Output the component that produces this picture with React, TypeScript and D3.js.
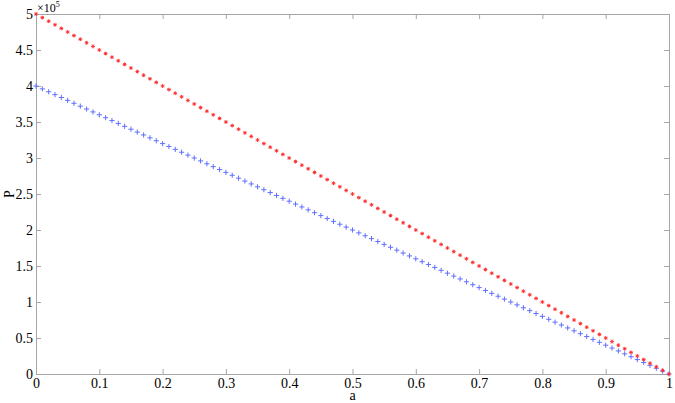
import * as d3 from "d3";
import { useRef, useEffect } from "react";

// a from 0 to 1, step 0.01
const aValues = [
  0, 0.01, 0.02, 0.03, 0.04, 0.05, 0.06, 0.07, 0.08, 0.09,
  0.1, 0.11, 0.12, 0.13, 0.14, 0.15, 0.16, 0.17, 0.18, 0.19,
  0.2, 0.21, 0.22, 0.23, 0.24, 0.25, 0.26, 0.27, 0.28, 0.29,
  0.3, 0.31, 0.32, 0.33, 0.34, 0.35, 0.36, 0.37, 0.38, 0.39,
  0.4, 0.41, 0.42, 0.43, 0.44, 0.45, 0.46, 0.47, 0.48, 0.49,
  0.5, 0.51, 0.52, 0.53, 0.54, 0.55, 0.56, 0.57, 0.58, 0.59,
  0.6, 0.61, 0.62, 0.63, 0.64, 0.65, 0.66, 0.67, 0.68, 0.69,
  0.7, 0.71, 0.72, 0.73, 0.74, 0.75, 0.76, 0.77, 0.78, 0.79,
  0.8, 0.81, 0.82, 0.83, 0.84, 0.85, 0.86, 0.87, 0.88, 0.89,
  0.9, 0.91, 0.92, 0.93, 0.94, 0.95, 0.96, 0.97, 0.98, 0.99,
  1
];

// P in units of 10^5
const redP = [
  5, 4.95, 4.9, 4.85, 4.8, 4.75, 4.7, 4.65, 4.6, 4.55,
  4.5, 4.45, 4.4, 4.35, 4.3, 4.25, 4.2, 4.15, 4.1, 4.05,
  4, 3.95, 3.9, 3.85, 3.8, 3.75, 3.7, 3.65, 3.6, 3.55,
  3.5, 3.45, 3.4, 3.35, 3.3, 3.25, 3.2, 3.15, 3.1, 3.05,
  3, 2.95, 2.9, 2.85, 2.8, 2.75, 2.7, 2.65, 2.6, 2.55,
  2.5, 2.45, 2.4, 2.35, 2.3, 2.25, 2.2, 2.15, 2.1, 2.05,
  2, 1.95, 1.9, 1.85, 1.8, 1.75, 1.7, 1.65, 1.6, 1.55,
  1.5, 1.45, 1.4, 1.35, 1.3, 1.25, 1.2, 1.15, 1.1, 1.05,
  1, 0.95, 0.9, 0.85, 0.8, 0.75, 0.7, 0.65, 0.6, 0.55,
  0.5, 0.45, 0.4, 0.35, 0.3, 0.25, 0.2, 0.15, 0.1, 0.05,
  0
];

const blueP = [
  4, 3.96, 3.92, 3.88, 3.84, 3.8, 3.76, 3.72, 3.68, 3.64,
  3.6, 3.56, 3.52, 3.48, 3.44, 3.4, 3.36, 3.32, 3.28, 3.24,
  3.2, 3.16, 3.12, 3.08, 3.04, 3, 2.96, 2.92, 2.88, 2.84,
  2.8, 2.76, 2.72, 2.68, 2.64, 2.6, 2.56, 2.52, 2.48, 2.44,
  2.4, 2.36, 2.32, 2.28, 2.24, 2.2, 2.16, 2.12, 2.08, 2.04,
  2, 1.96, 1.92, 1.88, 1.84, 1.8, 1.76, 1.72, 1.68, 1.64,
  1.6, 1.56, 1.52, 1.48, 1.44, 1.4, 1.36, 1.32, 1.28, 1.24,
  1.2, 1.16, 1.12, 1.08, 1.04, 1, 0.96, 0.92, 0.88, 0.84,
  0.8, 0.76, 0.72, 0.68, 0.64, 0.6, 0.56, 0.52, 0.48, 0.44,
  0.4, 0.36, 0.32, 0.28, 0.24, 0.2, 0.16, 0.12, 0.08, 0.04,
  0
];

const xTicks = [0, 0.1, 0.2, 0.3, 0.4, 0.5, 0.6, 0.7, 0.8, 0.9, 1];
const yTicks = [0, 0.5, 1, 1.5, 2, 2.5, 3, 3.5, 4, 4.5, 5];

export default function App() {
  const width = 675;
  const height = 403;
  const marginLeft = 36;
  const marginRight = 6;
  const marginTop = 14;
  const marginBottom = 29;
  const font = "'Liberation Serif', 'Times New Roman', Times, serif";
  const axisColor = "#a6a6a6";

  const gx = useRef<SVGGElement>(null);
  const gy = useRef<SVGGElement>(null);
  const gxTop = useRef<SVGGElement>(null);
  const gyRight = useRef<SVGGElement>(null);

  const x = d3.scaleLinear([0, 1], [marginLeft, width - marginRight]);
  const y = d3.scaleLinear([0, 5], [height - marginBottom, marginTop]);

  useEffect(() => {
    const style = (g: any) => {
      g.attr("font-family", font).attr("font-size", 14);
      g.select(".domain").attr("stroke", axisColor);
      g.selectAll(".tick line").attr("stroke", axisColor);
      g.selectAll(".tick text").attr("fill", "#000");
    };
    d3.select(gx.current)
      .call(d3.axisBottom(x).tickValues(xTicks).tickSize(-5).tickPadding(4).tickFormat(d3.format("")) as any)
      .call(style);
    d3.select(gy.current)
      .call(d3.axisLeft(y).tickValues(yTicks).tickSize(-5).tickPadding(3).tickFormat(d3.format("")) as any)
      .call(style);
    d3.select(gxTop.current)
      .call(d3.axisTop(x).tickValues(xTicks).tickSize(-5).tickFormat(() => "") as any)
      .call(style);
    d3.select(gyRight.current)
      .call(d3.axisRight(y).tickValues(yTicks).tickSize(-5).tickFormat(() => "") as any)
      .call(style);
  }, []);

  const star = (cx: number, cy: number) => {
    const r = 1.9;
    const d = r * 0.7;
    return `M${cx - r},${cy}H${cx + r}M${cx},${cy - r}V${cy + r}M${cx - d},${cy - d}L${cx + d},${cy + d}M${cx - d},${cy + d}L${cx + d},${cy - d}`;
  };
  const plus = (cx: number, cy: number) => {
    const r = 2.6;
    return `M${cx - r},${cy}H${cx + r}M${cx},${cy - r}V${cy + r}`;
  };

  return (
    <svg width={width} height={height} style={{ position: "absolute", left: 0, top: 0, background: "#fff" }}>
      <g ref={gx} transform={`translate(0,${height - marginBottom})`} />
      <g ref={gy} transform={`translate(${marginLeft},0)`} />
      <g ref={gxTop} transform={`translate(0,${marginTop})`} />
      <g ref={gyRight} transform={`translate(${width - marginRight},0)`} />
      <path
        fill="none"
        stroke="#6070ff"
        strokeWidth={1}
        d={aValues.map((a, i) => plus(x(a), y(blueP[i]))).join("")}
      />
      <path
        fill="none"
        stroke="#ff3030"
        strokeWidth={1}
        d={aValues.map((a, i) => star(x(a), y(redP[i]))).join("")}
      />
      <text x={marginLeft + 1} y={marginTop - 2} fontFamily={font} fontSize={12}>
        ×10<tspan fontSize={8} dy={-5}>5</tspan>
      </text>
      <text
        x={(marginLeft + width - marginRight) / 2}
        y={height - 3}
        textAnchor="middle"
        fontFamily={font}
        fontSize={14}
      >
        a
      </text>
      <text
        transform={`translate(14,${(marginTop + height - marginBottom) / 2}) rotate(-90)`}
        textAnchor="middle"
        fontFamily={font}
        fontSize={14}
      >
        P
      </text>
    </svg>
  );
}
